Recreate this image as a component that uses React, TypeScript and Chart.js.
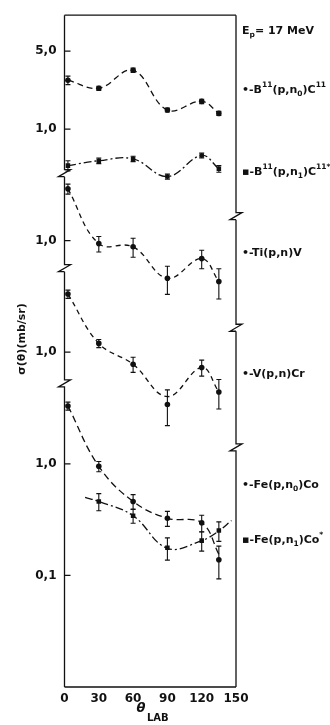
import React, { useEffect, useRef } from "react";
import { Chart, registerables } from "chart.js";
Chart.register(...registerables);

// ---- data (mb/sr) ----
const angles = [3, 30, 60, 90, 120, 135];
const b11n0 = [2.74, 2.32, 3.36, 1.48, 1.77, 1.38];
const b11n0Err = [0.24, 0.1, 0.15, 0.06, 0.08, 0.06];
const b11n1 = [0.47, 0.52, 0.54, 0.375, 0.58, 0.44];
const b11n1Err = [0.05, 0.03, 0.03, 0.02, 0.03, 0.03];
const tiPn = [2.91, 0.94, 0.88, 0.46, 0.69, 0.43];
const tiPnErr = [0.3, 0.15, 0.17, 0.13, 0.13, 0.13];
const vPn = [3.32, 1.2, 0.78, 0.34, 0.73, 0.44];
const vPnErr = [0.28, 0.1, 0.12, 0.12, 0.12, 0.13];
const vPnCurve = [3.32, 1.2, 0.78, 0.4, 0.73, 0.44];
const feN0 = [3.3, 0.95, 0.46, 0.325, 0.296, 0.138];
const feN0Err = [0.27, 0.1, 0.07, 0.05, 0.05, 0.045];
const feN0Curve = [3.3, 0.95, 0.46, 0.325, 0.296, 0.155];
const feN1Angles = [30, 60, 90, 120, 135];
const feN1 = [0.46, 0.343, 0.177, 0.205, 0.252];
const feN1Err = [0.08, 0.05, 0.04, 0.04, 0.05];
const feN1CurveAngles = [18, 30, 60, 90, 120, 135, 146];
const feN1Curve = [0.5, 0.46, 0.343, 0.175, 0.205, 0.25, 0.31];

// panel offsets (each panel shifted by a decade factor on the shared log axis)
const panelB11 = 1000;
const panelTi = 100;
const panelV = 10;
const panelFe = 1;

const xTickValues = [0, 30, 60, 90, 120, 150];
const yTickValues = [0.1, 1, 10, 100, 1000, 5000];
const yTickLabels = ["0,1", "1,0", "1,0", "1,0", "1,0", "5,0"];
const leftBreaks = [398, 56, 5.2];
const rightBreaks = [164, 16.4, 1.39];

const K = "#111";
const FONT = '"DejaVu Sans", sans-serif';

type Part = [string, number];
const labels: { y: number; parts: Part[] }[] = [
  { y: 31, parts: [["E", 0], ["p", -1], ["= 17 MeV", 0]] },
  { y: 90, parts: [["•-B", 0], ["11", 1], ["(p,n", 0], ["0", -1], [")C", 0], ["11", 1]] },
  { y: 172, parts: [["▪-B", 0], ["11", 1], ["(p,n", 0], ["1", -1], [")C", 0], ["11*", 1]] },
  { y: 253, parts: [["•-Ti(p,n)V", 0]] },
  { y: 374, parts: [["•-V(p,n)Cr", 0]] },
  { y: 485, parts: [["•-Fe(p,n", 0], ["0", -1], [")Co", 0]] },
  { y: 540, parts: [["▪-Fe(p,n", 0], ["1", -1], [")Co", 0], ["*", 1]] },
];

function drawRich(ctx: CanvasRenderingContext2D, x: number, y: number, parts: Part[], size: number) {
  let cx = x;
  ctx.textAlign = "left";
  ctx.textBaseline = "middle";
  for (const [t, m] of parts) {
    const fs = m === 0 ? size : 7.5;
    ctx.font = `bold ${fs}px ${FONT}`;
    const dy = m === 1 ? -size * 0.45 : m === -1 ? size * 0.38 : 0;
    ctx.fillText(t, cx, y + dy);
    cx += ctx.measureText(t).width;
  }
}

const mk = (xs: number[], vs: number[], f: number) => xs.map((x, i) => ({ x, y: vs[i] * f }));

const decor = {
  id: "decor",
  afterDatasetsDraw(chart: any) {
    const { ctx, chartArea: a, scales } = chart;
    const xs = scales.x;
    const ys = scales.y;
    ctx.save();
    ctx.strokeStyle = K;
    ctx.fillStyle = K;
    // error bars
    chart.data.datasets.forEach((ds: any) => {
      if (!ds.errs) return;
      ctx.lineWidth = 1.1;
      ctx.setLineDash([]);
      ds.data.forEach((p: any, j: number) => {
        const e = ds.errs[j];
        const px = xs.getPixelForValue(p.x);
        const hi = ys.getPixelForValue(p.y + e);
        const lo = ys.getPixelForValue(Math.max(p.y - e, p.y * 0.05));
        ctx.beginPath();
        ctx.moveTo(px, hi);
        ctx.lineTo(px, lo);
        ctx.moveTo(px - 2.5, hi);
        ctx.lineTo(px + 2.5, hi);
        ctx.moveTo(px - 2.5, lo);
        ctx.lineTo(px + 2.5, lo);
        ctx.stroke();
      });
    });
    // frame
    ctx.lineWidth = 1.3;
    ctx.beginPath();
    ctx.moveTo(a.left, a.top);
    ctx.lineTo(a.right, a.top);
    ctx.moveTo(a.left, a.bottom);
    ctx.lineTo(a.right, a.bottom);
    ctx.stroke();
    const broken = (xp: number, brks: number[]) => {
      const pys = brks.map((v) => ys.getPixelForValue(v)).sort((p, q) => p - q);
      let cur = a.top;
      ctx.beginPath();
      for (const b of pys) {
        ctx.moveTo(xp, cur);
        ctx.lineTo(xp, b - 4);
        ctx.lineTo(xp + 6, b - 4);
        ctx.lineTo(xp - 6, b + 3);
        ctx.lineTo(xp, b + 3);
        cur = b + 3;
      }
      ctx.lineTo(xp, a.bottom);
      ctx.stroke();
    };
    broken(a.left, leftBreaks);
    broken(a.right, rightBreaks);
    // inside tick marks on y axis
    ctx.beginPath();
    yTickValues.forEach((v) => {
      const py = ys.getPixelForValue(v);
      ctx.moveTo(a.left, py);
      ctx.lineTo(a.left + 6, py);
    });
    ctx.stroke();
    // series labels
    labels.forEach((l) => drawRich(ctx, 242, l.y, l.parts, 11));
    // axis titles
    ctx.font = `italic bold 13px ${FONT}`;
    ctx.textAlign = "center";
    ctx.textBaseline = "middle";
    ctx.fillText("θ", 141, 709);
    ctx.font = `bold 10px ${FONT}`;
    ctx.textAlign = "left";
    ctx.fillText("LAB", 147, 718);
    ctx.save();
    ctx.translate(22, 339);
    ctx.rotate(-Math.PI / 2);
    ctx.font = `bold 11px ${FONT}`;
    ctx.textAlign = "center";
    ctx.fillText("σ(θ)(mb/sr)", 0, 0);
    ctx.restore();
    ctx.restore();
  },
};

function curve(data: any[], dash: number[]) {
  return {
    type: "line",
    data,
    showLine: true,
    borderColor: K,
    borderWidth: 1.3,
    borderDash: dash,
    pointRadius: 0,
    tension: 0.4,
    fill: false,
  };
}
function pts(data: any[], errs: number[], f: number, style: string) {
  return {
    type: "scatter",
    data,
    errs: errs.map((e) => e * f),
    showLine: false,
    pointStyle: style,
    pointRadius: style === "rect" ? 3.2 : 2.8,
    backgroundColor: K,
    borderColor: K,
    borderWidth: 0,
  };
}

export default function App() {
  const ref = useRef<HTMLCanvasElement>(null);
  useEffect(() => {
    if (!ref.current) return;
    const dashed = [6, 4];
    const dashDot = [8, 3, 2, 3];
    const datasets: any[] = [
      curve(mk(angles, b11n0, panelB11), dashed),
      curve(mk(angles, b11n1, panelB11), dashDot),
      curve(mk(angles, tiPn, panelTi), [5, 4]),
      curve(mk(angles, vPnCurve, panelV), [5, 4]),
      curve(mk(angles, feN0Curve, panelFe), [7, 4]),
      curve(mk(feN1CurveAngles, feN1Curve, panelFe), dashDot),
      pts(mk(angles, b11n0, panelB11), b11n0Err, panelB11, "circle"),
      pts(mk(angles, b11n1, panelB11), b11n1Err, panelB11, "rect"),
      pts(mk(angles, tiPn, panelTi), tiPnErr, panelTi, "circle"),
      pts(mk(angles, vPn, panelV), vPnErr, panelV, "circle"),
      pts(mk(angles, feN0, panelFe), feN0Err, panelFe, "circle"),
      pts(mk(feN1Angles, feN1, panelFe), feN1Err, panelFe, "rect"),
    ];
    const chart = new Chart(ref.current, {
      type: "scatter",
      data: { datasets },
      options: {
        animation: false,
        responsive: false,
        layout: { padding: { left: 0, right: 94, top: 13, bottom: 0 } },
        plugins: { legend: { display: false }, tooltip: { enabled: false } },
        scales: {
          x: {
            type: "linear",
            min: 0,
            max: 150,
            afterBuildTicks: (s: any) => {
              s.ticks = xTickValues.map((v) => ({ value: v }));
            },
            afterFit: (s: any) => {
              s.height = 38;
            },
            grid: { display: false, drawTicks: false },
            border: { display: false },
            ticks: {
              padding: 5,
              autoSkip: false,
              maxRotation: 0,
              color: K,
              font: { family: FONT, size: 12, weight: "bold" },
              callback: (v: any) => String(v),
            },
          },
          y: {
            type: "logarithmic",
            min: 0.01,
            max: Math.pow(10, 4.02),
            afterBuildTicks: (s: any) => {
              s.ticks = yTickValues.map((v) => ({ value: v }));
            },
            afterFit: (s: any) => {
              s.width = 64.5;
            },
            grid: { display: false, drawTicks: false },
            border: { display: false },
            ticks: {
              padding: 8,
              autoSkip: false,
              color: K,
              font: { family: FONT, size: 12, weight: "bold" },
              callback: (_v: any, i: number) => yTickLabels[i],
            },
          },
        },
      } as any,
      plugins: [decor],
    });
    return () => chart.destroy();
  }, []);
  return (
    <div style={{ position: "absolute", left: 0, top: 0, width: 330, height: 725, background: "#fff" }}>
      <canvas ref={ref} width={330} height={725} />
    </div>
  );
}
